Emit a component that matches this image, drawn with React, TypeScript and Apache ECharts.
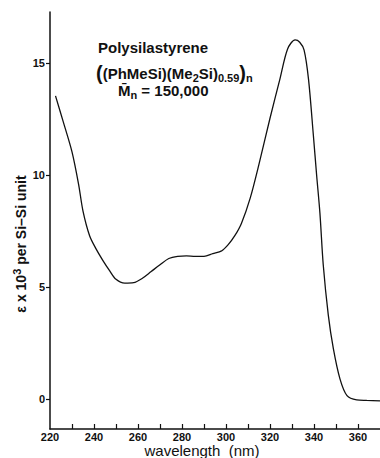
import React, { useEffect, useRef } from "react";
import * as echarts from "echarts";

const wavelength = [222.5, 226, 230, 233, 235, 238, 241, 244, 247, 250, 254, 258, 262, 266, 270, 274, 278, 282, 286, 290, 294, 298, 301, 304, 307, 311, 315, 320, 324.5, 328, 331.4, 333.5, 335.5, 337.5, 339.7, 341.2, 342.7, 344.2, 346.5, 348.8, 351.8, 355, 359.4, 364, 370];
const epsilon = [13.55, 12.4, 11.05, 9.6, 8.4, 7.3, 6.7, 6.2, 5.75, 5.35, 5.18, 5.2, 5.4, 5.7, 6.0, 6.28, 6.38, 6.4, 6.38, 6.38, 6.5, 6.62, 6.9, 7.3, 7.85, 8.98, 10.5, 12.55, 14.3, 15.65, 16.05, 15.95, 15.6, 14.3, 11.8, 10.0, 8.3, 6.0, 3.75, 2.25, 0.9, 0.15, -0.04, -0.06, -0.08];
const xLabelValues = [220, 240, 260, 280, 300, 320, 340, 360];
const xTickValues = [230, 240, 250, 260, 270, 280, 290, 300, 310, 320, 330, 340, 350, 360];
const yTickValues = [0, 5, 10, 15];

const FONT = "'Liberation Sans', Arial, sans-serif";

export default function App() {
  const ref = useRef<HTMLDivElement>(null);
  useEffect(() => {
    if (!ref.current) return;
    const chart = echarts.init(ref.current, undefined, { renderer: "svg" });
    const data = wavelength.map((w, i) => [w, epsilon[i]]);
    chart.setOption({
      animation: false,
      backgroundColor: "#ffffff",
      grid: { left: 50, right: 0, top: 12, bottom: 29, containLabel: false, outerBoundsMode: "none" },
      xAxis: {
        type: "value",
        min: 220,
        max: 370,
        interval: 10,
        axisLine: { show: true, onZero: false, lineStyle: { color: "#111", width: 1.5 } },
        axisTick: { show: true, inside: true, length: 5, customValues: xTickValues, lineStyle: { color: "#111", width: 1.2 } },
        axisLabel: { customValues: xLabelValues, margin: 2, fontFamily: FONT, fontSize: 11, lineHeight: 11, fontWeight: "bold", color: "#111" },
        splitLine: { show: false },
      },
      yAxis: {
        type: "value",
        min: -1.34,
        max: 17.3,
        axisLine: { show: true, onZero: false, lineStyle: { color: "#111", width: 1.5 } },
        axisTick: { show: true, inside: false, length: 4, customValues: yTickValues, lineStyle: { color: "#111", width: 1.2 } },
        axisLabel: { customValues: yTickValues, margin: 5, fontFamily: FONT, fontSize: 11, fontWeight: "bold", color: "#111" },
        splitLine: { show: false },
      },
      graphic: [
        {
          type: "text",
          x: 202,
          y: 450,
          style: {
            text: "wavelength  (nm)",
            fontFamily: FONT,
            fontSize: 15,
            fill: "#111",
            align: "center",
            verticalAlign: "middle",
          },
        },
        {
          type: "text",
          x: 21,
          y: 244,
          rotation: Math.PI / 2,
          style: {
            text: "\u03b5 x 10{sup|3} per Si\u2013Si unit",
            fontFamily: FONT,
            fontSize: 14,
            fontWeight: "bold",
            fill: "#111",
            align: "center",
            verticalAlign: "middle",
            rich: { sup: { fontFamily: FONT, fontSize: 11, fontWeight: "bold", fill: "#111", padding: [0, 0, 9, 0] } },
          },
        },
        {
          type: "text",
          left: 98,
          top: 40,
          style: { text: "Polysilastyrene", fontFamily: FONT, fontSize: 15, fontWeight: "bold", fill: "#111" },
        },
        {
          type: "text",
          left: 96,
          top: 63,
          style: {
            text: "{p|(}(PhMeSi)(Me{s|2}Si){s|0.59}{p|)}{s|n}",
            fontFamily: FONT,
            fontSize: 15,
            fontWeight: "bold",
            fill: "#111",
            rich: {
              p: { fontFamily: FONT, fontSize: 20, fontWeight: "bold", fill: "#111" },
              s: { fontFamily: FONT, fontSize: 11, fontWeight: "bold", fill: "#111", padding: [9, 0, 0, 0] },
            },
          },
        },
        {
          type: "text",
          left: 118,
          top: 83,
          style: {
            text: "M\u0304{s|n} = 150,000",
            fontFamily: FONT,
            fontSize: 15,
            fontWeight: "bold",
            fill: "#111",
            rich: {
              s: { fontFamily: FONT, fontSize: 11, fontWeight: "bold", fill: "#111", padding: [9, 0, 0, 0] },
            },
          },
        },
      ],
      series: [
        {
          type: "line",
          data,
          smooth: 0.3,
          showSymbol: false,
          lineStyle: { color: "#111", width: 1.3 },
        },
      ],
    });
    return () => chart.dispose();
  }, []);
  return <div ref={ref} style={{ position: "fixed", left: 0, top: 0, width: 380, height: 458 }} />;
}
